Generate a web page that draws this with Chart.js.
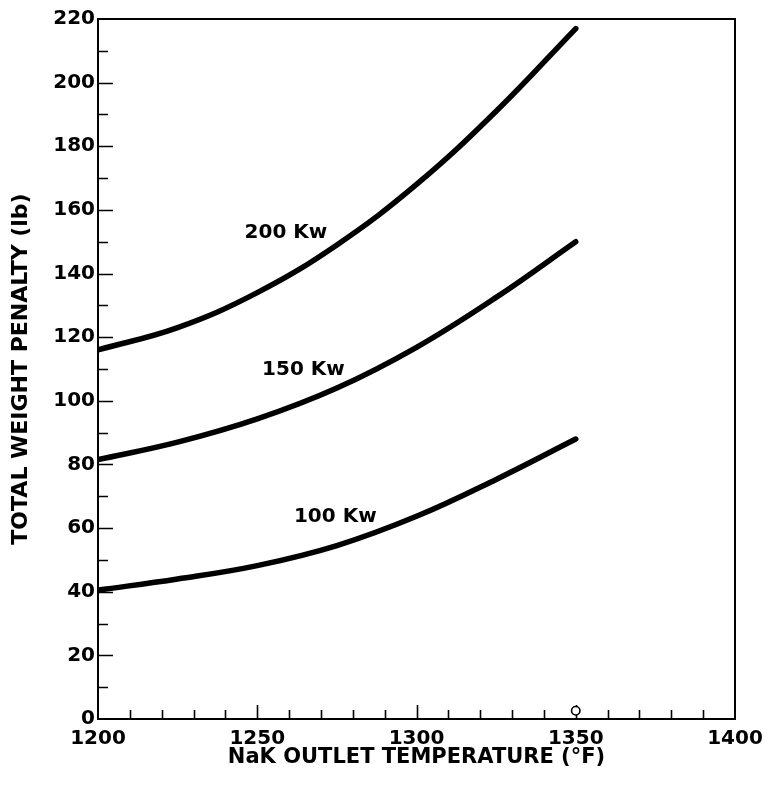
<!DOCTYPE html>
<html>
<head>
<meta charset="utf-8">
<title>Total Weight Penalty vs NaK Outlet Temperature</title>
<script src="https://cdn.jsdelivr.net/npm/chart.js@4/dist/chart.umd.min.js"></script>
<style>
  html, body { margin: 0; padding: 0; background: #fff; }
  #wrap { width: 773px; height: 788px; }
</style>
</head>
<body>
<div id="wrap"><canvas id="c" width="773" height="788"></canvas></div>
<script>
// NaK outlet temperature (°F)
const temps = [1200, 1225, 1250, 1275, 1300, 1325, 1350];

// Total weight penalty (lb) for each heat load
const penalty200 = [116, 123, 134, 149, 168, 191, 217];
const penalty150 = [81.5, 87, 94.3, 104, 116.8, 132.5, 150];
const penalty100 = [40.5, 44, 48.2, 54.5, 63.7, 75.3, 88];

const seriesNames = ['200 Kw', '150 Kw', '100 Kw'];
// Curve captions, placed in data coordinates [temperature, penalty]
const captionAt = [[1259, 152.7], [1264.5, 109.7], [1274.5, 63.5]];

// Design point marked on the temperature axis
const designPoint = [{ x: 1350, y: 2.6 }];

const xTicks = { min: 1200, max: 1400, major: 50, minor: 10 };
const yTicks = { min: 0, max: 220, major: 20, minor: 10 };

const toPoints = (vals) => temps.map((t, i) => ({ x: t, y: vals[i] }));

const curveStyle = {
  borderColor: '#000',
  borderWidth: 5.5,
  borderCapStyle: 'round',
  borderJoinStyle: 'round',
  pointRadius: 0,
  fill: false,
  tension: 0.4,
  showLine: true
};

// Frame and inward tick marks, drawn under the curves
const framePlugin = {
  id: 'frame',
  beforeDatasetsDraw(chart) {
    const { ctx, chartArea: a, scales: { x, y } } = chart;
    ctx.save();
    ctx.strokeStyle = '#000';
    ctx.lineWidth = 1.6;
    ctx.beginPath();
    for (let v = yTicks.min + yTicks.minor; v < yTicks.max; v += yTicks.minor) {
      const py = Math.round(y.getPixelForValue(v)) + 0.5;
      const len = v % yTicks.major === 0 ? 15 : 10;
      ctx.moveTo(a.left, py);
      ctx.lineTo(a.left + len, py);
    }
    for (let v = xTicks.min + xTicks.minor; v < xTicks.max; v += xTicks.minor) {
      const px = Math.round(x.getPixelForValue(v)) + 0.5;
      const len = v % xTicks.major === 0 ? 14 : 9;
      ctx.moveTo(px, a.bottom);
      ctx.lineTo(px, a.bottom - len);
    }
    ctx.stroke();

    ctx.lineWidth = 2;
    ctx.strokeRect(a.left, a.top, a.right - a.left, a.bottom - a.top);
    ctx.restore();
  },
  // Curve captions
  afterDatasetsDraw(chart) {
    const { ctx, scales: { x, y } } = chart;
    ctx.save();
    ctx.fillStyle = '#000';
    ctx.font = 'bold 20px "DejaVu Sans"';
    ctx.textAlign = 'center';
    ctx.textBaseline = 'middle';
    seriesNames.forEach((name, i) => {
      const [tx, ty] = captionAt[i];
      ctx.fillText(name, x.getPixelForValue(tx), y.getPixelForValue(ty));
    });
    ctx.restore();
  }
};

new Chart(document.getElementById('c'), {
  type: 'scatter',
  data: {
    datasets: [
      { label: seriesNames[0], data: toPoints(penalty200), ...curveStyle },
      { label: seriesNames[1], data: toPoints(penalty150), ...curveStyle },
      { label: seriesNames[2], data: toPoints(penalty100), ...curveStyle },
      {
        label: 'design point',
        data: designPoint,
        pointRadius: 4.2,
        pointBackgroundColor: '#fff',
        pointBorderColor: '#000',
        pointBorderWidth: 1.6,
        showLine: false
      },
      {
        label: 'design point centre',
        data: designPoint,
        pointRadius: 1.3,
        pointBackgroundColor: '#000',
        pointBorderColor: '#000',
        pointBorderWidth: 0,
        showLine: false
      }
    ]
  },
  options: {
    responsive: false,
    animation: false,
    devicePixelRatio: 1,
    layout: { padding: { top: 19, right: 38, bottom: 0, left: 0 } },
    plugins: {
      legend: { display: false },
      tooltip: { enabled: false }
    },
    scales: {
      x: {
        type: 'linear',
        min: xTicks.min,
        max: xTicks.max,
        grid: { display: false, drawTicks: false },
        border: { display: false },
        ticks: {
          stepSize: xTicks.major,
          color: '#000',
          padding: 8,
          font: { family: 'DejaVu Sans', weight: 'bold', size: 20 },
          callback: (v) => String(v)
        },
        title: {
          display: true,
          text: 'NaK OUTLET TEMPERATURE (°F)',
          color: '#000',
          font: { family: 'DejaVu Sans', weight: 'bold', size: 21 },
          padding: { top: 0, bottom: 18 }
        },
        afterFit(scale) { scale.height = 69; }
      },
      y: {
        type: 'linear',
        min: yTicks.min,
        max: yTicks.max,
        grid: { display: false, drawTicks: false },
        border: { display: false },
        ticks: {
          stepSize: yTicks.major,
          color: '#000',
          padding: 3,
          font: { family: 'DejaVu Sans', weight: 'bold', size: 20 }
        },
        title: {
          display: true,
          text: 'TOTAL WEIGHT PENALTY (lb)',
          color: '#000',
          font: { family: 'DejaVu Sans', weight: 'bold', size: 22 },
          padding: { top: 8, bottom: 0 }
        },
        afterFit(scale) { scale.width = 98; }
      }
    }
  },
  plugins: [framePlugin]
});
</script>
</body>
</html>
